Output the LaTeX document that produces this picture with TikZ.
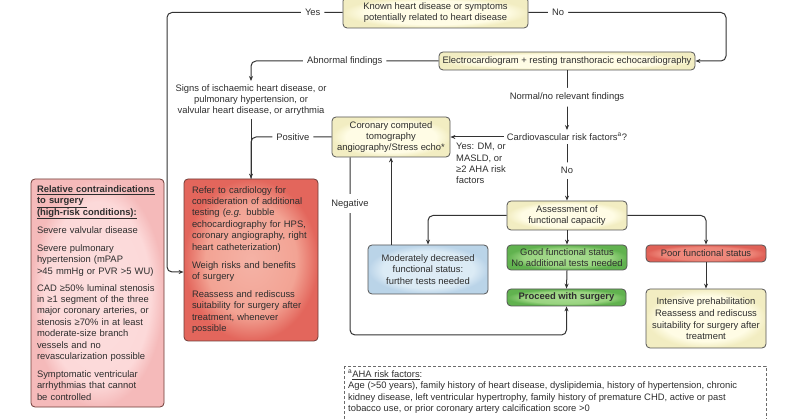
\documentclass[tikz,border=0pt]{standalone}
\usepackage{fontspec}
\setmainfont{Liberation Sans}
\usepackage{xcolor}
\usetikzlibrary{arrows.meta}
\usetikzlibrary{calc}

\definecolor{linegray}{HTML}{333333}
\definecolor{textgray}{HTML}{2E2E2E}
\definecolor{boxgray}{HTML}{555555}
\definecolor{redborder}{HTML}{6E3B37}
\definecolor{notegray}{HTML}{6A6A6A}

\pgfdeclareradialshading{glowyellow}{\pgfpoint{0bp}{0bp}}{rgb(0bp)=(1,0.99,0.9); rgb(19bp)=(1,0.99,0.9); rgb(25bp)=(0.95,0.93,0.76); rgb(50bp)=(0.95,0.93,0.76)}
\pgfdeclareradialshading{glowgreen}{\pgfpoint{0bp}{0bp}}{rgb(0bp)=(0.66,0.86,0.57); rgb(18bp)=(0.6,0.83,0.5); rgb(25bp)=(0.38,0.7,0.31); rgb(50bp)=(0.38,0.7,0.31)}
\pgfdeclareradialshading{glowred}{\pgfpoint{0bp}{0bp}}{rgb(0bp)=(0.96,0.7,0.65); rgb(17bp)=(0.95,0.64,0.58); rgb(25bp)=(0.89,0.4,0.36); rgb(50bp)=(0.89,0.4,0.36)}
\pgfdeclareradialshading{glowpoor}{\pgfpoint{0bp}{0bp}}{rgb(0bp)=(0.94,0.55,0.5); rgb(19bp)=(0.93,0.52,0.47); rgb(25bp)=(0.88,0.38,0.34); rgb(50bp)=(0.88,0.38,0.34)}
\pgfdeclareradialshading{glowblue}{\pgfpoint{0bp}{0bp}}{rgb(0bp)=(0.87,0.92,0.96); rgb(19bp)=(0.86,0.92,0.96); rgb(25bp)=(0.73,0.83,0.91); rgb(50bp)=(0.73,0.83,0.91)}
\pgfdeclareradialshading{glowpink}{\pgfpoint{0bp}{0bp}}{rgb(0bp)=(0.99,0.87,0.87); rgb(20bp)=(0.99,0.85,0.85); rgb(25bp)=(0.96,0.73,0.73); rgb(50bp)=(0.96,0.73,0.73)}

\begin{document}
\begin{tikzpicture}[x=1pt, y=-1pt,
    every node/.style={font=\fontsize{9.4}{11.4}\selectfont, text=textgray},
    box/.style={draw=boxgray, line width=0.8pt, rounded corners=4pt, align=center, inner sep=2pt, shade},
    yellowbox/.style={box, shading=glowyellow},
    greenbox/.style={box, shading=glowgreen},
    bluebox/.style={box, shading=glowblue},
    poorbox/.style={box, shading=glowpoor},
    redbox/.style={box, draw=redborder, shading=glowred, align=left, inner xsep=8pt},
    pinkbox/.style={box, draw=redborder, shading=glowpink, align=left, inner xsep=6pt},
    flow/.style={draw=linegray, line width=1pt, rounded corners=5pt, -{Stealth[length=5pt,width=4pt]}},
    lbl/.style={fill=white, inner xsep=4pt, inner ysep=5pt}
]
    \useasboundingbox (0,0) rectangle (800,419);
    %BOXES
    \node[yellowbox, minimum width=185pt, minimum height=31pt] (known) at (435.5,12.5) {Known heart disease or symptoms\\potentially related to heart disease};
    \node[yellowbox, minimum width=256pt, minimum height=18pt] (ecg) at (567,61) {Electrocardiogram + resting transthoracic echocardiography};
    \node[align=center, inner sep=3pt] (signs) at (251,100) {Signs of ischaemic heart disease, or\\pulmonary hypertension, or\\valvular heart disease, or arrythmia};
    \node[yellowbox, minimum width=118pt, minimum height=40pt] (ct) at (391,137) {Coronary computed\\tomography\\angiography/Stress echo*};
    \node[inner sep=3pt] (cardio) at (567,137) {Cardiovascular risk factors\textsuperscript{a}?};
    \node[anchor=north west, align=left, inner sep=1pt] (yesnote) at (455,142) {Yes: DM, or\\MASLD, or\\≥2 AHA risk\\factors};
    \node[yellowbox, minimum width=120pt, minimum height=29pt] (assess) at (567,215.5) {Assessment of\\functional capacity};
    \node[bluebox, minimum width=120pt, minimum height=49pt] (moderate) at (428,269.5) {Moderately decreased\\functional status:\\further tests needed};
    \node[greenbox, minimum width=120pt, minimum height=25pt] (good) at (567,257.5) {Good functional status\\No additional tests needed};
    \node[poorbox, minimum width=120pt, minimum height=17pt] (poor) at (706,253.5) {Poor functional status};
    \node[greenbox, minimum width=119pt, minimum height=17pt, font=\fontsize{9.4}{11.4}\selectfont\bfseries] (proceed) at (566.5,297.5) {Proceed with surgery};
    \node[yellowbox, minimum width=120pt, minimum height=59pt] (prehab) at (706,318.5) {Intensive prehabilitation\\[1.5pt]Reassess and rediscuss\\suitability for surgery after\\treatment};
    \node[redbox, text width=118pt, minimum height=162pt] (refer) at (251,260) {Refer to cardiology for\\consideration of additional\\testing (\textit{e.g.} bubble\\echocardiography for HPS,\\coronary angiography, right\\heart catheterization)\\[6.6pt]Weigh risks and benefits\\of surgery\\[6.6pt]Reassess and rediscuss\\suitability for surgery after\\treatment, whenever\\possible};
    \node[pinkbox, text width=121pt, minimum height=228pt] (contra) at (97.5,293) {\textbf{\underline{Relative contraindications}}\\\textbf{\underline{to surgery }}\\\textbf{\underline{(high-risk conditions):}}\\[6.6pt]Severe valvular disease\\[6.6pt]Severe pulmonary\\hypertension (mPAP\\>45 mmHg or PVR >5 WU)\\[5.6pt]CAD ≥50\% luminal stenosis\\in ≥1 segment of the three\\major coronary arteries, or\\stenosis ≥70\% in at least\\moderate-size branch\\vessels and no\\revascularization possible\\[6.6pt]Symptomatic ventricular\\arrhythmias that cannot\\be controlled};
    %FOOTNOTE
    \draw[notegray, line width=0.8pt, dash pattern=on 3pt off 2pt] (344,366) rectangle (766,440);
    \node[anchor=north west, align=left, inner sep=1pt] (ahanote) at (347,369) {\textsuperscript{a}\underline{AHA risk factors}:\\Age (>50 years), family history of heart disease, dyslipidemia, history of hypertension, chronic\\kidney disease, left ventricular hypertrophy, family history of premature CHD, active or past\\tobacco use, or prior coronary artery calcification score >0};
    %TURNING POINTS
    \coordinate (yesA) at (167,12.5);
    \coordinate (yesB) at (167,272);
    \coordinate (noA) at (726,12.5);
    \coordinate (negA) at (350,335);
    %ARROWS
    \draw[flow] (known.west) -- node[lbl, pos=0.17] {Yes} (yesA) -- (yesB) -- (yesB -| refer.west);
    \draw[flow] (known.east) -- node[lbl, pos=0.15] {No} (noA) |- (ecg.east);
    \draw[flow] (ecg.west) -| node[lbl, pos=0.25] {Abnormal findings} (signs.north);
    \draw[flow] (signs.south) -- (refer.north);
    \draw[flow, -] (ct.west) -| node[lbl, pos=0.24] {Positive} (refer.north);
    \draw[flow] (ecg.south) -- node[lbl, pos=0.45] {Normal/no relevant findings} (cardio.north);
    \draw[flow] (cardio.west) -- (ct.east);
    \draw[flow] (cardio.south) -- node[lbl, pos=0.47] {No} (assess.north);
    \draw[flow] (assess.west) -| (moderate.north);
    \draw[flow] (assess.east) -| (poor.north);
    \draw[flow] (assess.south) -- (good.north);
    \draw[flow] (good.south) -- (proceed.north);
    \draw[flow] (poor.south) -- (prehab.north);
    \draw[flow] (moderate.north -| ct.south) -- (ct.south);
    \draw[flow] (ct.south -| negA) -- node[lbl, pos=0.26] {Negative} (negA) -| (proceed.south);
\end{tikzpicture}
\end{document}
